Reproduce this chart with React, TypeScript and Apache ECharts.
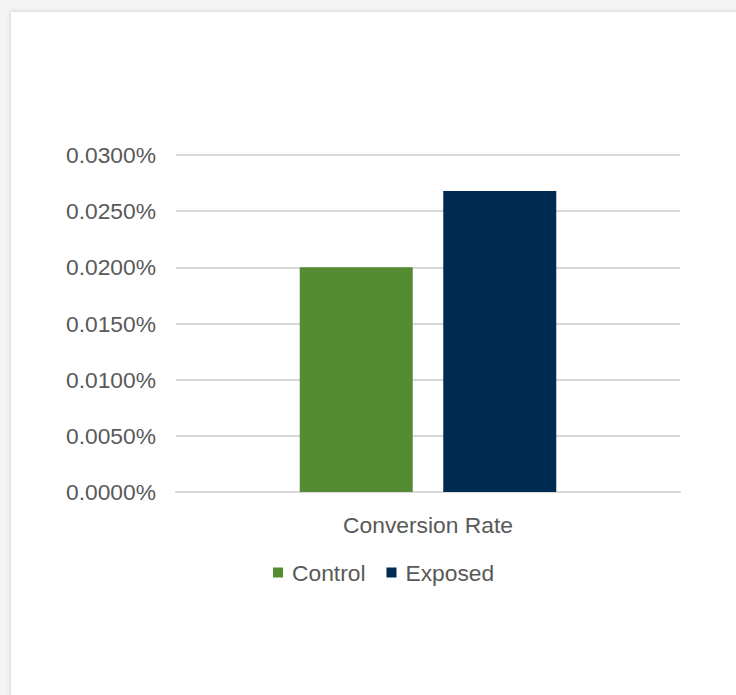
import React, { useEffect, useRef } from "react";
import * as echarts from "echarts";

const categories = ["Conversion Rate"];
const controlValues = [0.02];
const exposedValues = [0.0268];
const seriesNames = ["Control", "Exposed"];

const FONT = "'Liberation Sans', Arial, sans-serif";
const FS = 22.8;

export default function App() {
  const ref = useRef<HTMLDivElement>(null);
  useEffect(() => {
    if (!ref.current) return;
    const chart = echarts.init(ref.current, null, { renderer: "svg" });
    chart.setOption({
      animation: false,
      backgroundColor: "#f4f4f4",
      graphic: [
        {
          type: "rect",
          z: -10,
          silent: true,
          shape: { x: 11, y: 12, width: 740, height: 700 },
          style: { fill: "#ffffff", shadowBlur: 5, shadowColor: "rgba(0,0,0,0.18)" },
        },
      ],
      grid: { left: 176, right: 56, top: 155, bottom: 203, containLabel: false },
      legend: {
        left: 273,
        top: 561,
        padding: 0,
        itemWidth: 10,
        itemHeight: 10,
        itemGap: 21,
        icon: "rect",
        data: seriesNames,
        textStyle: { color: "#595959", fontSize: FS, fontFamily: FONT, padding: [0, 0, 0, 4] },
      },
      xAxis: {
        type: "category",
        data: categories,
        axisLine: { lineStyle: { color: "#d9d9d9", width: 2 } },
        axisTick: { show: false },
        axisLabel: { color: "#595959", fontSize: FS, fontFamily: FONT, margin: 21 },
      },
      yAxis: {
        type: "value",
        min: 0,
        max: 0.03,
        interval: 0.005,
        axisLine: { show: false },
        axisTick: { show: false },
        splitLine: { lineStyle: { color: "#d9d9d9", width: 2 } },
        axisLabel: {
          color: "#595959",
          fontSize: FS,
          fontFamily: FONT,
          margin: 20,
          formatter: (v: number) => v.toFixed(4) + "%",
        },
      },
      series: [
        {
          name: seriesNames[0],
          type: "bar",
          data: controlValues,
          barWidth: 113,
          barGap: "27%",
          itemStyle: { color: "#548b33" },
        },
        {
          name: seriesNames[1],
          type: "bar",
          data: exposedValues,
          barWidth: 113,
          itemStyle: { color: "#002b50" },
        },
      ],
    });
    return () => chart.dispose();
  }, []);
  return (
    <div
      ref={ref}
      style={{ position: "absolute", left: 0, top: 0, width: 736, height: 695 }}
    />
  );
}
